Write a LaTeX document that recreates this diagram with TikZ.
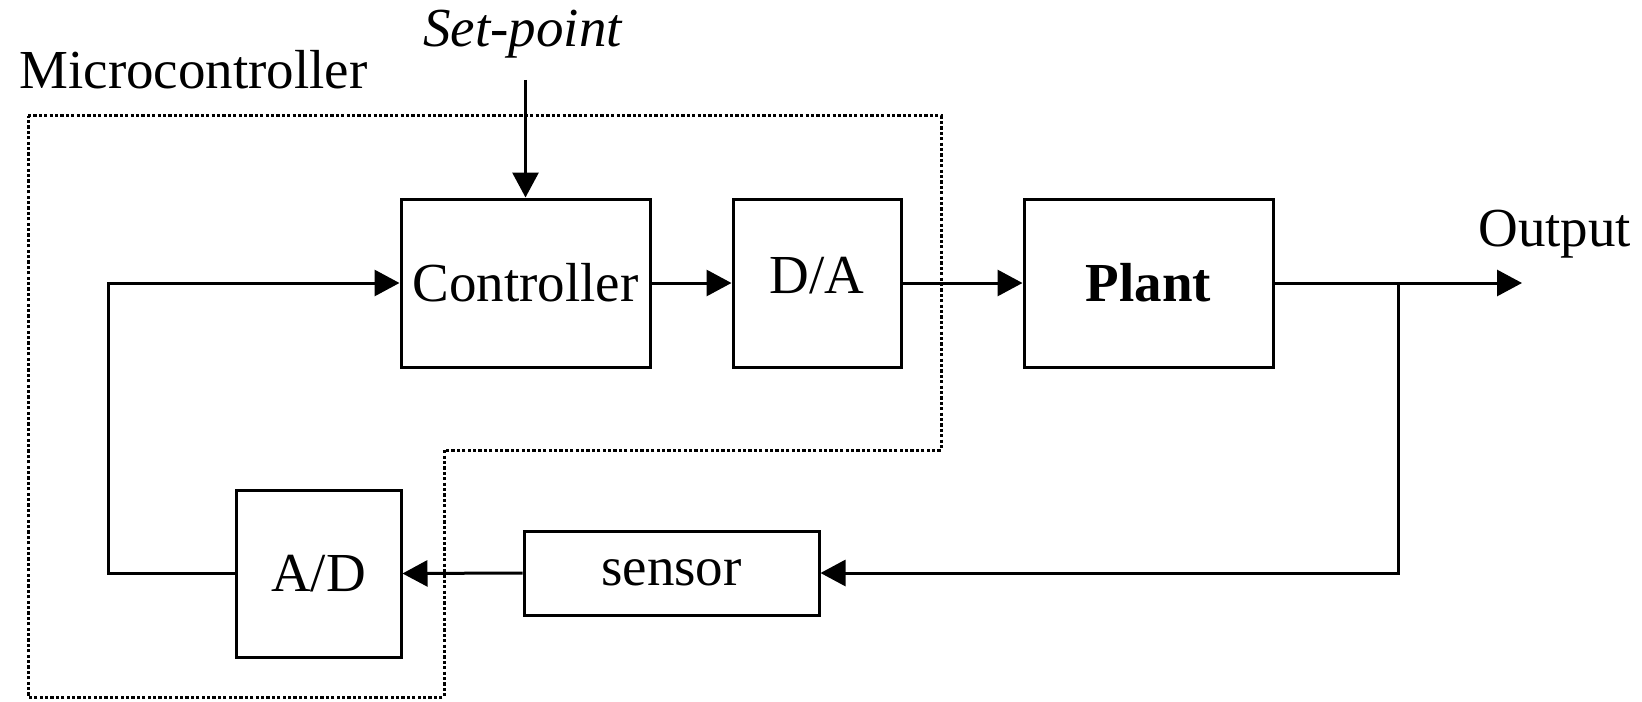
\documentclass[tikz,border=0pt]{standalone}
\usepackage{fontspec}
\setmainfont{Liberation Serif}
\usetikzlibrary{arrows.meta}
\begin{document}
\begin{tikzpicture}[x=0.5pt,y=-0.5pt,
  font=\fontsize{27.5pt}{33pt}\selectfont,
  block/.style={draw, line width=1.5pt, inner sep=0pt},
  lbl/.style={inner sep=0pt},
  arr/.style={line width=1.5pt, -{Triangle[length=12.5pt,width=13pt]}},
  mcubox/.style={line width=1.5pt, dash pattern=on 1.6pt off 1.1pt}]
\useasboundingbox (0,0) rectangle (1642,701);

% microcontroller boundary
\draw[mcubox] (28,116) -- (941,116) -- (941,450) -- (444,450) -- (444,697) -- (28,697) -- cycle;

% blocks
\node[block, minimum width=124.5pt, minimum height=84pt] (ctrl) at (525.5,283) {Controller};
\node[block, minimum width=84pt, minimum height=84pt, text depth=8pt] (da) at (817,283) {D/A};
\node[block, minimum width=124.5pt, minimum height=84pt] (plant) at (1148.5,283) {\bfseries Plant};
\node[block, minimum width=147.5pt, minimum height=42pt] (sensor) at (671.5,573) {sensor};
\node[block, minimum width=82.5pt, minimum height=83.5pt] (ad) at (318.5,573.5) {A/D};

% labels
\node[lbl, anchor=base west] (mcu) at (19,89) {Microcontroller};
\node[lbl, anchor=base west] (sptext) at (423,47) {\itshape Set-point};
\node[lbl, anchor=base west] (outtext) at (1478,246) {Output};

% free ends and branch point
\coordinate (sp) at (525.5,80);
\coordinate (out) at (1522,283);
\coordinate (br) at (1398,283);

% signal flow
\draw[arr] (sp) -- (ctrl.north);
\draw[arr] (ctrl.east) -- (da.west);
\draw[arr] (da.east) -- (plant.west);
\draw[arr] (plant.east) -- (out);
\draw[arr] (br) |- (sensor.east);
\draw[arr] (sensor.west) -- (ad.east);
\draw[arr] (ad.west) -- ++(-126,0) |- (ctrl.west);
\end{tikzpicture}
\end{document}
